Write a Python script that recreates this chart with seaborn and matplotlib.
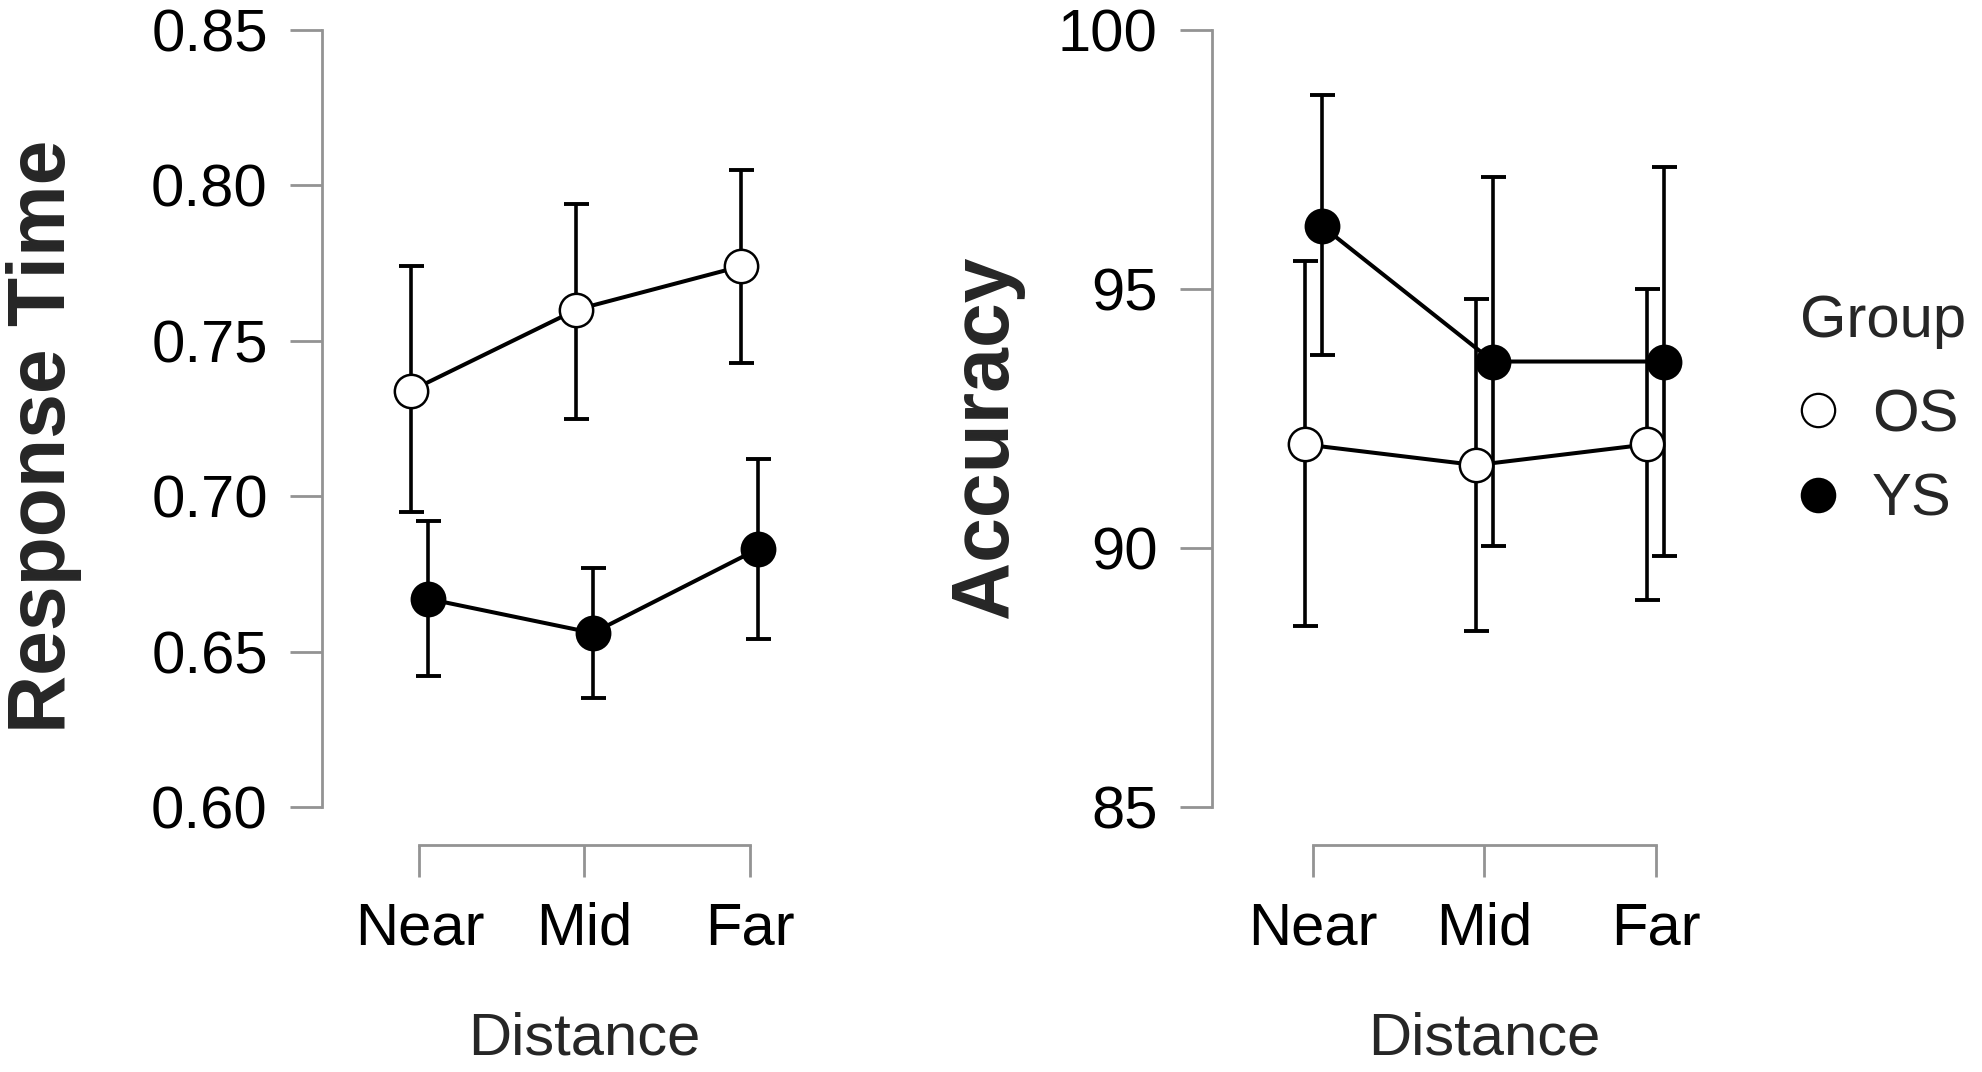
import pandas as pd
import seaborn as sns
import matplotlib.pyplot as plt
from matplotlib.lines import Line2D

# data (means with lower / upper error bar ends)
distances = ['Near', 'Mid', 'Far']
groups = ['OS', 'YS']

rt_os = [0.734, 0.760, 0.774]
rt_os_lo = [0.695, 0.725, 0.743]
rt_os_hi = [0.774, 0.794, 0.805]
rt_ys = [0.667, 0.656, 0.683]
rt_ys_lo = [0.642, 0.635, 0.654]
rt_ys_hi = [0.692, 0.677, 0.712]

acc_os = [92.0, 91.6, 92.0]
acc_os_lo = [88.5, 88.4, 89.0]
acc_os_hi = [95.55, 94.8, 95.0]
acc_ys = [96.22, 93.6, 93.6]
acc_ys_lo = [93.73, 90.04, 89.85]
acc_ys_hi = [98.75, 97.17, 97.35]

rt_ticks = [0.60, 0.65, 0.70, 0.75, 0.80, 0.85]
acc_ticks = [85, 90, 95, 100]


def make_frame(os_m, os_lo, os_hi, ys_m, ys_lo, ys_hi):
    rows = []
    for g, m, lo, hi in [('OS', os_m, os_lo, os_hi), ('YS', ys_m, ys_lo, ys_hi)]:
        for i, d in enumerate(distances):
            rows.append({'Distance': d, 'idx': i, 'Group': g,
                         'mean': m[i], 'lo': lo[i], 'hi': hi[i]})
    return pd.DataFrame(rows)


df_rt = make_frame(rt_os, rt_os_lo, rt_os_hi, rt_ys, rt_ys_lo, rt_ys_hi)
df_acc = make_frame(acc_os, acc_os_lo, acc_os_hi, acc_ys, acc_ys_lo, acc_ys_hi)

sns.set_style('ticks')
plt.rcParams['font.family'] = ['Liberation Sans', 'DejaVu Sans']

grey = '#939393'
fs = 43
dodge = {'OS': -0.05, 'YS': 0.05}
fill = {'OS': 'white', 'YS': 'black'}

fig = plt.figure(figsize=(19.83, 10.72), dpi=100)
W, H = 1983, 1072
ax1 = fig.add_axes([322 / W, (H - 807) / H, 525 / W, 777 / H])
ax2 = fig.add_axes([1212 / W, (H - 807) / H, 545 / W, 777 / H])


def draw(ax, df, ticks, ylabel, label_x):
    df = df.copy()
    df['x'] = df['idx'] + df['Group'].map(dodge)
    for g in groups:
        sub = df[df['Group'] == g]
        sns.lineplot(data=sub, x='x', y='mean', color='black', lw=2.9,
                     ax=ax, zorder=2, legend=False)
        ax.errorbar(sub['x'], sub['mean'],
                    yerr=[sub['mean'] - sub['lo'], sub['hi'] - sub['mean']],
                    fmt='none', ecolor='black', elinewidth=2.6,
                    capsize=9, capthick=2.8, zorder=3)
        sns.scatterplot(data=sub, x='x', y='mean', s=24 ** 2, marker='o',
                        color=fill[g], edgecolor='black', linewidth=1.8,
                        ax=ax, zorder=4, legend=False)
    ax.set_xlim(-0.59, 2.59)
    ax.set_ylim(ticks[0], ticks[-1])
    ax.set_yticks(ticks)
    if ticks[-1] < 1:
        ax.set_yticklabels([f'{t:.2f}' for t in ticks])
    else:
        ax.set_yticklabels([str(t) for t in ticks])
    ax.set_xticks(range(len(distances)))
    ax.set_xticklabels(distances)
    sns.despine(ax=ax)
    for side in ['left', 'bottom']:
        ax.spines[side].set_color(grey)
        ax.spines[side].set_linewidth(2)
    ax.spines['bottom'].set_position(('outward', 27))
    ax.spines['bottom'].set_bounds(0, 2)
    ax.tick_params(axis='both', colors=grey, width=2, length=23,
                   labelsize=fs, labelcolor='black', pad=18)
    ax.tick_params(axis='y', pad=16)
    ax.set_xlabel('Distance', fontsize=fs)
    ax.xaxis.set_label_coords(0.5, -0.319)
    ax.xaxis.label.set_verticalalignment('baseline')
    ax.set_ylabel(ylabel, fontsize=58, fontweight='bold')
    ax.yaxis.set_label_coords(label_x, 0.477)
    ax.yaxis.label.set_verticalalignment('center')
    ax.patch.set_alpha(0)


draw(ax1, df_rt, rt_ticks, 'Response Time', -0.53)
draw(ax2, df_acc, acc_ticks, 'Accuracy', -0.415)

# legend: title placed as text, entries as a frameless legend
fig.text(1800 / W, (H - 337) / H, 'Group', fontsize=fs,
         ha='left', va='baseline')
handles = [Line2D([], [], ls='none', marker='o', ms=24, mfc=fill[g],
                  mec='black', mew=1.6, label=g) for g in groups]
fig.legend(handles=handles, loc='upper left',
           bbox_to_anchor=(1800 / W, (H - 388) / H), frameon=False,
           fontsize=fs, handlelength=0.6, handletextpad=0.6,
           labelspacing=0.5, borderpad=0, borderaxespad=0)

fig.savefig('out.png', dpi=100, facecolor='white')
